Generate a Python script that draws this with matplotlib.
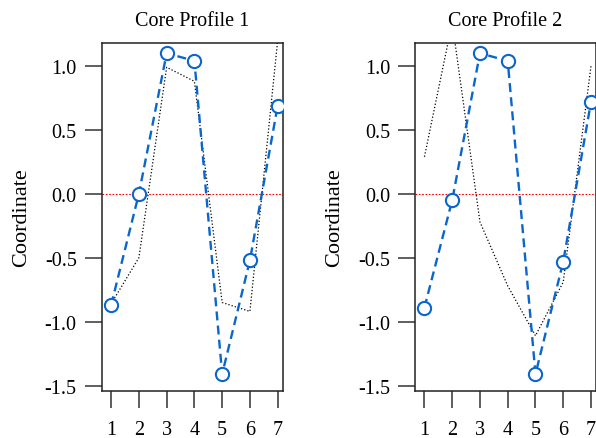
#!/usr/bin/env python3
# -*- coding: utf-8 -*-
import numpy as np
import matplotlib
matplotlib.use('Agg')
from matplotlib import pyplot as plt

plt.rcParams['font.family'] = ['Liberation Serif', 'DejaVu Serif']

# positions along the core
x = [1, 2, 3, 4, 5, 6, 7]
xtick_labels = ['1', '2', '3', '4', '5', '6', '7']
ytick_values = [-1.5, -1.0, -0.5, 0.0, 0.5, 1.0]
ytick_labels = ['-1.5', '-1.0', '-0.5', '0.0', '0.5', '1.0']

# profile 1
core1_coord = [-0.87, 0.0, 1.10, 1.04, -1.41, -0.52, 0.69]
core1_ref = [-0.86, -0.50, 0.99, 0.88, -0.85, -0.92, 1.20]
# profile 2
core2_coord = [-0.89, -0.05, 1.10, 1.04, -1.41, -0.53, 0.72]
core2_ref = [0.29, 1.34, -0.22, -0.72, -1.11, -0.69, 1.00]

titles = ['Core Profile 1', 'Core Profile 2']

BLUE = '#0a66cc'
GREY = '#333333'

fig = plt.figure(figsize=(5.96, 4.39), dpi=100)
ax1 = fig.add_axes([0.1706, 0.1077, 0.3037, 0.7921])
ax2 = fig.add_axes([0.6963, 0.1077, 0.3037, 0.7921])

for ax, coord, ref, title in [(ax1, core1_coord, core1_ref, titles[0]),
                              (ax2, core2_coord, core2_ref, titles[1])]:
    ax.axhline(0, color='red', linestyle=(0, (1.5, 1.5)), linewidth=0.8, zorder=1)
    ax.plot(x, ref, color='black', linestyle=':', linewidth=0.9, zorder=2)
    ax.plot(x, coord, color=BLUE, linestyle=(0, (3.8, 2.2)), linewidth=1.7,
            marker='o', markersize=9.5, markerfacecolor='white',
            markeredgecolor=BLUE, markeredgewidth=1.5, zorder=3)
    ax.set_xlim(0.66, 7.18)
    ax.set_ylim(-1.54, 1.18)
    ax.set_xticks(x)
    ax.set_xticklabels(xtick_labels)
    ax.set_yticks(ytick_values)
    ax.set_yticklabels(ytick_labels)
    ax.tick_params(direction='out', length=12, width=1.1, color=GREY,
                   labelsize=14.5, pad=6)
    ax.tick_params(axis='x', pad=9)
    for s in ax.spines.values():
        s.set_linewidth(1.1)
        s.set_color('#222222')
    ax.set_title(title, fontsize=14.5, pad=13)
    ax.set_ylabel('Coordinate', fontsize=16, labelpad=10)

plt.savefig('out.png', dpi=100)
